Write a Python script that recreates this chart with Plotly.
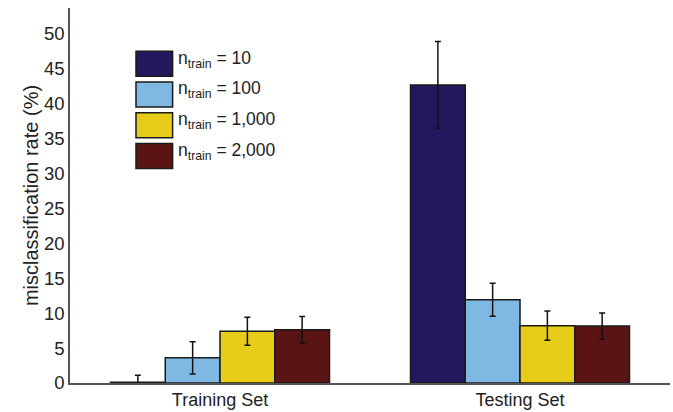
import plotly.graph_objects as go

categories = ["Training Set", "Testing Set"]
series_names = ["10", "100", "1,000", "2,000"]
values = [
    [0.1, 42.6],
    [3.6, 11.9],
    [7.4, 8.2],
    [7.6, 8.15],
]
err_plus = [
    [1.0, 6.2],
    [2.3, 2.35],
    [2.0, 2.1],
    [1.9, 1.85],
]
err_minus = [
    [0.1, 6.2],
    [2.3, 2.35],
    [2.0, 2.1],
    [1.9, 1.85],
]
colors = ["#22185E", "#80B8E4", "#E7CC1A", "#5A1414"]

fig = go.Figure()
for name, v, ep, em, c in zip(series_names, values, err_plus, err_minus, colors):
    fig.add_trace(go.Bar(
        x=categories, y=v, name=name,
        marker=dict(color=c, line=dict(color="#1a1a1a", width=1.5)),
        error_y=dict(type="data", symmetric=False, array=ep, arrayminus=em,
                     color="#111111", thickness=1.5, width=3),
        showlegend=False,
    ))

# custom legend (large swatches)
x0, x1 = 0.11, 0.171
row_top = 0.885
row_h = 0.067
row_step = 0.082
for i, (name, c) in enumerate(zip(series_names, colors)):
    top = row_top - i * row_step
    fig.add_shape(type="rect", xref="paper", yref="paper",
                  x0=x0, x1=x1, y0=top - row_h, y1=top,
                  fillcolor=c, line=dict(color="#1a1a1a", width=1.5))
    fig.add_annotation(xref="paper", yref="paper", x=x1 + 0.005, y=top - row_h / 2 + 0.012,
                       xanchor="left", yanchor="middle", showarrow=False,
                       text=f"n<sub>train</sub> = {name}",
                       font=dict(size=17.5, color="#222222"))

fig.update_layout(
    width=673, height=412,
    margin=dict(l=70, r=3, t=8, b=29),
    paper_bgcolor="white", plot_bgcolor="white",
    font=dict(family="Liberation Sans, Arial, sans-serif", color="#222222"),
    barmode="group", bargap=0.27, bargroupgap=0,
    xaxis=dict(showline=True, linecolor="#555555", linewidth=1.5, ticks="",
               tickfont=dict(size=18), range=[-0.5, 1.5], showgrid=False,
               automargin=False),
    yaxis=dict(showline=True, linecolor="#555555", linewidth=1.5, ticks="",
               range=[0, 53.6], dtick=5, tickfont=dict(size=18.5),
               showgrid=False, zeroline=False, automargin=False,
               title=dict(text="misclassification rate (%)", font=dict(size=20), standoff=0)),
)

fig.write_html("out.html", config={"displayModeBar": False},
               post_script="document.body.style.margin='0';document.body.style.padding='0';")
